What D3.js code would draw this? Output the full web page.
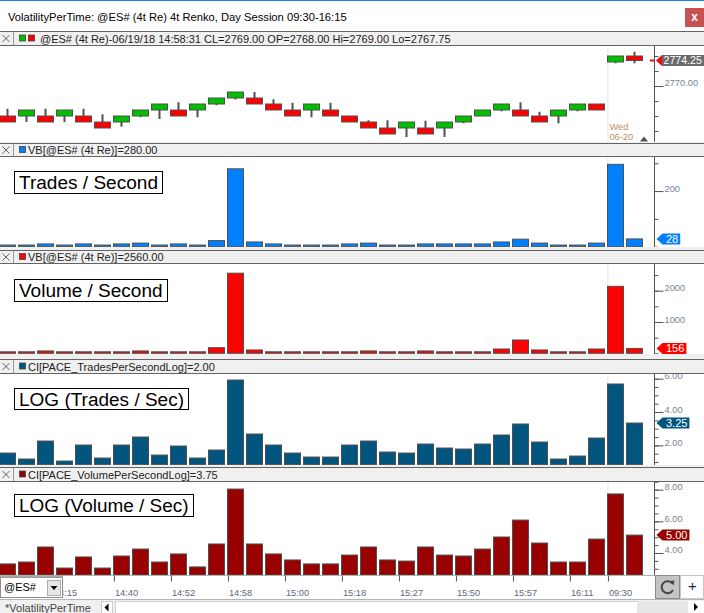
<!DOCTYPE html>
<html><head><meta charset="utf-8">
<script src="https://cdn.jsdelivr.net/npm/d3@7"></script>
<style>
html,body{margin:0;padding:0;background:#fff;overflow:hidden}
svg{display:block;font-family:"Liberation Sans",Arial,sans-serif}
</style></head><body>
<svg id="c" width="704" height="613"></svg>
<script>
// ---------- DATA ----------
const titleText = "VolatilityPerTime: @ES# (4t Re) 4t Renko, Day Session 09:30-16:15";
const headerTexts = [
  "@ES# (4t Re)-06/19/18 14:58:31 CL=2769.00 OP=2768.00 Hi=2769.00 Lo=2767.75",
  "VB[@ES# (4t Re)]=280.00",
  "VB[@ES# (4t Re)]=2560.00",
  "CI[PACE_TradesPerSecondLog]=2.00",
  "CI[PACE_VolumePerSecondLog]=3.75"
];
const panelTitles = ["Trades / Second", "Volume / Second", "LOG (Trades / Sec)", "LOG (Volume / Sec)"];
const bricks = d3.range(1, 35);
const brickOpen  = [2765,2765,2765,2765,2765,2764,2764,2765,2766,2766,2766,2767,2768,2768,2767,2766,2766,2766,2765,2764,2763,2763,2763,2763,2764,2765,2766,2766,2765,2765,2766,2767,2774,2775];
const brickClose = [2764,2766,2764,2766,2764,2763,2765,2766,2767,2765,2767,2768,2769,2767,2766,2765,2767,2765,2764,2763,2762,2764,2762,2764,2765,2766,2767,2765,2764,2766,2767,2766,2775,2774.25];
const brickHigh  = [2766.2,2766,2766.2,2766,2766.2,2765.3,2765,2766,2767,2767.3,2767,2768,2769,2769,2767.8,2767.2,2767,2767.2,2765,2764.3,2764.3,2764,2764.2,2764,2765,2766,2767,2767.3,2765.7,2766,2767,2767,2775,2775.7];
const brickLow   = [2764,2764,2764,2764,2764,2763,2763.2,2764.8,2764.5,2765,2764.8,2766.8,2767.75,2767,2766,2765,2764.8,2765,2764,2763,2762,2761.5,2762,2761.5,2763.8,2765,2765.8,2765,2764,2763.8,2765.8,2766,2773.8,2773.8];
const tradesPerSec = [6,6,10,6,10,6,10,13,6,10,6,22,280,17,10,6,6,6,10,13,6,6,10,10,10,10,17,27,13,6,6,13,296,28];
const volumePerSec = [40,40,75,15,40,15,40,75,40,40,15,180,2560,107,40,40,40,40,40,75,40,40,75,40,40,40,138,426,107,40,40,138,2140,156];
const logTrades = [1.54,1.18,2.26,1.06,2.02,1.24,2.02,2.50,1.42,1.96,1.24,1.72,5.92,2.68,2.02,1.54,1.30,1.30,2.02,2.26,1.60,1.54,2.08,1.84,1.78,2.08,2.62,3.28,2.20,1.18,1.36,2.44,5.68,3.34];
const logVolume = [3.31,3.43,4.38,3.05,3.75,3.05,3.81,4.25,3.43,3.94,3.12,4.57,8.04,4.57,3.94,3.56,3.31,3.31,3.87,4.38,3.56,3.49,4.38,3.87,3.81,4.25,5.01,6.08,4.63,3.43,3.43,4.88,7.73,5.13];
const tickBricks = [4,7,10,13,16,19,22,25,28,31,33];
const tickLabels = ["14:15","14:40","14:52","14:58","15:00","15:18","15:27","15:50","15:57","16:11","09:30"];
const sessionBrick = 33;
const sessionLabel = ["Wed", "06-20"];
const priceMinor = [2762.5,2765,2767.5,2770,2772.5,2775], priceMajor = [2770];
const tradesMinor = [0,100,200,300], tradesMajor = [200];
const volMinor = [0,500,1000,1500,2000,2500], volMajor = [1000,2000];
const logTMinor = [1,1.5,2,2.5,3,3.5,4,4.5,5,5.5,6], logTMajor = [2,4,6];
const logVMinor = [3,3.5,4,4.5,5,5.5,6,6.5,7,7.5,8,8.5], logVMajor = [4,6,8];

// ---------- LAYOUT ----------
const svg = d3.select("#c");
const AX = 654.5;
const C = {green:"#00c000", red:"#ff0000", blue:"#0080ff", teal:"#02557f", dred:"#990000", edge:"#505050"};
const panels = [
  {hTop:31, top:45, bottom:142, sw:[C.green,C.red]},
  {hTop:143, top:156, bottom:247, sw:[C.blue]},
  {hTop:250, top:263, bottom:354, sw:[C.red]},
  {hTop:359, top:373, bottom:465, sw:[C.teal]},
  {hTop:467, top:481, bottom:575, sw:[C.dred]}
];

const x = d3.scaleBand().domain(bricks).range([-1.5, 644.5]).paddingInner(0.1).paddingOuter(0.05);
const yP  = d3.scaleLinear().domain([2760.667, 2776.833]).range([142, 45]);
const yT  = d3.scaleLinear().domain([0, 326]).range([246.7, 156]);
const yV  = d3.scaleLinear().domain([0, 2885]).range([353.3, 263]);
const yLT = d3.scaleLinear().domain([0.84, 6.34]).range([464.7, 373]);
const yLV = d3.scaleLinear().domain([2.61, 8.548]).range([575, 481]);

svg.append("rect").attr("width",704).attr("height",613).attr("fill","#fff");
// title bar
svg.append("rect").attr("x",0).attr("y",0).attr("width",704).attr("height",1).attr("fill","#1883d7");
svg.append("text").attr("x",8).attr("y",20.5).attr("font-size","11.2px").attr("fill","#000").text(titleText);
svg.append("rect").attr("x",685).attr("y",8).attr("width",19).attr("height",19).attr("fill","#c75050");
svg.append("text").attr("x",694.5).attr("y",21).attr("text-anchor","middle").attr("font-size","12px").attr("font-weight","bold").attr("fill","#fff").text("x");

const defs = svg.append("defs");
panels.forEach((p,i)=>{
  const prevBottom = i===0 ? 31 : panels[i-1].bottom;
  svg.append("rect").attr("x",0).attr("y",prevBottom).attr("width",704).attr("height",p.top-prevBottom).attr("fill","#f0f0f0");
  [p.hTop, p.top, p.bottom].forEach(yy => svg.append("line").attr("x1",0).attr("x2",704)
     .attr("y1",yy+0.5).attr("y2",yy+0.5).attr("stroke","#646464"));
  const hy = (p.hTop+p.top)/2 + 0.5;
  svg.append("path").attr("d",`M2.5,${hy-3.5}L9.5,${hy+3.5}M9.5,${hy-3.5}L2.5,${hy+3.5}`).attr("stroke","#555").attr("stroke-width",0.9).attr("fill","none");
  svg.append("line").attr("x1",13.5).attr("x2",13.5).attr("y1",p.hTop+1).attr("y2",p.top).attr("stroke","#9a9a9a");
  p.sw.forEach((c,k)=> svg.append("rect").attr("x",19.5+k*9).attr("y",hy-3.5).attr("width",6).attr("height",6)
     .attr("fill",c).attr("stroke","#444").attr("stroke-width",0.8));
  svg.append("text").attr("x",p.sw.length===2?40:28).attr("y",hy+4).attr("font-size","11px").attr("fill","#222").text(headerTexts[i]);
  defs.append("clipPath").attr("id","pc"+i).append("rect").attr("x",0).attr("y",p.top+1).attr("width",AX).attr("height",p.bottom-p.top-1);
  defs.append("clipPath").attr("id","ac"+i).append("rect").attr("x",AX-1).attr("y",p.top+1).attr("width",704-AX+1).attr("height",p.bottom-p.top-1);
  svg.append("line").attr("x1",x(sessionBrick)+0.5).attr("x2",x(sessionBrick)+0.5).attr("y1",p.top+1).attr("y2",p.bottom)
     .attr("stroke","#e4e4e4");
});

// ---------- Renko panel ----------
const g1 = svg.append("g").attr("clip-path","url(#pc0)");
const cx = b => Math.round(x(b)) + 8.5;
g1.selectAll("line.w").data(bricks).join("line")
  .attr("x1",cx).attr("x2",cx)
  .attr("y1",(b,i)=>yP(brickHigh[i])).attr("y2",(b,i)=>yP(brickLow[i]))
  .attr("stroke",C.edge).attr("stroke-width",2);
g1.selectAll("rect.b").data(bricks).join("rect")
  .attr("x",b=>Math.round(x(b))+0.5).attr("width",16)
  .attr("y",(b,i)=>yP(Math.max(brickOpen[i],brickClose[i])))
  .attr("height",(b,i)=>yP(Math.min(brickOpen[i],brickClose[i]))-yP(Math.max(brickOpen[i],brickClose[i])))
  .attr("fill",(b,i)=>brickClose[i]>=brickOpen[i]?C.green:C.red)
  .attr("stroke",C.edge).attr("stroke-width",1);
svg.append("text").attr("x",x(sessionBrick)+2).attr("y",129.5).attr("font-size","9.3px").attr("fill","#c09060").text(sessionLabel[0]);
svg.append("text").attr("x",x(sessionBrick)+2).attr("y",140).attr("font-size","9.3px").attr("fill","#c09060").text(sessionLabel[1]);
svg.append("path").attr("d","M640,141.5L648,141.5L644,136.5Z").attr("fill","#505050");

// ---------- bar panels ----------
function bars(idx, vals, scale, color){
  const base = scale.range()[0];
  svg.append("g").attr("clip-path",`url(#pc${idx})`)
    .selectAll("rect").data(bricks).join("rect")
    .attr("x",b=>Math.round(x(b))+0.5).attr("width",16)
    .attr("y",(b,i)=>Math.min(scale(vals[i]), base-1.5))
    .attr("height",(b,i)=>base - Math.min(scale(vals[i]), base-1.5))
    .attr("fill",color).attr("stroke",C.edge).attr("stroke-width",1);
}
bars(1, tradesPerSec, yT, C.blue);
bars(2, volumePerSec, yV, C.red);
bars(3, logTrades, yLT, C.teal);
bars(4, logVolume, yLV, C.dred);

// ---------- right axes ----------
function yAxis(idx, scale, minor, major, fmt){
  const p = panels[idx];
  const g = svg.append("g").attr("clip-path",`url(#ac${idx})`);
  g.append("line").attr("x1",AX).attr("x2",AX).attr("y1",p.top).attr("y2",p.bottom).attr("stroke","#555");
  const gm = g.append("g").attr("transform",`translate(${AX},0)`)
    .call(d3.axisRight(scale).tickValues(minor).tickSize(4).tickSizeOuter(0).tickFormat(""));
  const gM = g.append("g").attr("transform",`translate(${AX},0)`)
    .call(d3.axisRight(scale).tickValues(major).tickSize(9).tickSizeOuter(0).tickPadding(1).tickFormat(fmt));
  [gm,gM].forEach(a=>{ a.select(".domain").remove(); a.selectAll("line").attr("stroke","#555"); });
  gM.selectAll("text").attr("dy","0").attr("font-size","9.3px").attr("fill","#7a8494").attr("font-family","Liberation Sans, Arial, sans-serif");
}
yAxis(0, yP, priceMinor, priceMajor, d3.format(".2f"));
yAxis(1, yT, tradesMinor, tradesMajor, d3.format("d"));
yAxis(2, yV, volMinor, volMajor, d3.format("d"));
yAxis(3, yLT, logTMinor, logTMajor, d3.format(".2f"));
yAxis(4, yLV, logVMinor, logVMajor, d3.format(".2f"));

// ---------- last value markers ----------
function marker(yy, label, color, boxColor, toEdge){
  const g = svg.append("g");
  const t = g.append("text").attr("x",toEdge?663.5:666).attr("y",yy+4).attr("font-size",toEdge?"10.6px":"11px").attr("fill","#fff").text(label);
  const w = t.node().getComputedTextLength();
  const x1 = toEdge ? 706 : 666 + w + 2;
  if (boxColor){
    g.insert("path","text").attr("d",`M656,${yy}L662,${yy-5.5}L662,${yy+5.5}Z`).attr("fill",color);
    g.insert("rect","text").attr("x",662).attr("y",yy-5.5).attr("width",x1-662).attr("height",11).attr("fill",boxColor);
  } else {
    g.insert("path","text").attr("d",`M656.5,${yy}L662.5,${yy-5.5}L${x1},${yy-5.5}L${x1},${yy+5.5}L662.5,${yy+5.5}Z`).attr("fill",color);
  }
}
const lastP = brickClose[brickClose.length-1];
svg.append("line").attr("x1",650).attr("x2",654).attr("y1",yP(lastP)).attr("y2",yP(lastP)).attr("stroke",C.red).attr("stroke-width",2);
marker(yP(lastP), d3.format(".2f")(lastP), C.red, "#6b6b6b", true);
const q = v => Math.floor(v*4)/4;
marker(yT(tradesPerSec[33]), d3.format("d")(tradesPerSec[33]), C.blue);
marker(yV(volumePerSec[33]), d3.format("d")(volumePerSec[33]), C.red);
marker(yLT(logTrades[33]), d3.format(".2f")(q(logTrades[33])), C.teal);
marker(yLV(logVolume[33]), d3.format(".2f")(q(logVolume[33])), C.dred);

// ---------- panel title boxes ----------
const boxes = [
  {x:14.5, y:171.5, w:148, h:22, tl:139},
  {x:14.5, y:279.5, w:153, h:22, tl:143.5},
  {x:14.5, y:388.5, w:174, h:21, tl:165},
  {x:14.5, y:494.5, w:179, h:22, tl:169.5}
];
boxes.forEach((b,i)=>{
  svg.append("rect").attr("x",b.x).attr("y",b.y).attr("width",b.w).attr("height",b.h).attr("fill","#fff").attr("stroke","#000");
  svg.append("text").attr("x",b.x+4.5).attr("y",b.y+17.5).attr("font-size","18px").attr("fill","#000")
    .attr("textLength",b.tl).attr("lengthAdjust","spacingAndGlyphs").text(panelTitles[i]);
});

// ---------- bottom x axis ----------
svg.append("rect").attr("x",0).attr("y",575.5).attr("width",704).attr("height",23).attr("fill","#fff");
const xEdge = d3.scaleLinear().domain([1, 35]).range([x(1), x(1)+34*x.step()]);
const gx = svg.append("g").attr("transform","translate(0,575.5)")
  .call(d3.axisBottom(xEdge).tickValues(tickBricks).tickSize(6).tickSizeOuter(0).tickFormat((d,i)=>tickLabels[i]));
gx.select(".domain").remove();
gx.selectAll("line").attr("stroke","#555").attr("transform","translate(0.5,0)");
gx.selectAll("text").attr("text-anchor","start").attr("x",(d,i)=>i===0?-3:1).attr("y",20.5).attr("dy","0")
  .attr("font-size","9.3px").attr("fill","#5d6878").attr("font-family","Liberation Sans, Arial, sans-serif");
// combobox
svg.append("rect").attr("x",0.5).attr("y",577.5).attr("width",62).attr("height",20).attr("fill","#fff").attr("stroke","#8c8c8c");
svg.append("line").attr("x1",0).attr("x2",63).attr("y1",576.5).attr("y2",576.5).attr("stroke","#a8a8a8").attr("stroke-width",2);
svg.append("text").attr("x",4).attr("y",591).attr("font-size","11px").attr("fill","#000").text("@ES#");
svg.append("rect").attr("x",47.5).attr("y",580.5).attr("width",13).attr("height",15).attr("fill","#e6e6e6").attr("stroke","#adadad");
svg.append("path").attr("d","M50.5,586L57.5,586L54,590Z").attr("fill","#000");
// refresh and plus
svg.append("rect").attr("x",655.5).attr("y",575.5).attr("width",24).attr("height",23).attr("fill","#c4c4c4").attr("stroke","#8a8a8a");
svg.append("path").attr("d","M672.5,583.5A6,6 0 1 0 673,590").attr("fill","none").attr("stroke","#444").attr("stroke-width",2);
svg.append("path").attr("d","M669.5,581L674.5,580.5L673.5,585.5Z").attr("fill","#444");
svg.append("rect").attr("x",680.5).attr("y",575.5).attr("width",23).attr("height",23).attr("fill","#fff").attr("stroke","#c8c8c8");
svg.append("text").attr("x",692.5).attr("y",591).attr("text-anchor","middle").attr("font-size","15px").attr("fill","#1a2a50").text("+");
// tab bar
svg.append("rect").attr("x",0).attr("y",599).attr("width",704).attr("height",14).attr("fill","#f0f0f0");
svg.append("line").attr("x1",0).attr("x2",704).attr("y1",599.5).attr("y2",599.5).attr("stroke","#b4b4b4");
svg.append("text").attr("x",5).attr("y",611.5).attr("font-size","11px").attr("fill","#444").text("*VolatilityPerTime");
svg.append("rect").attr("x",101.5).attr("y",601.5).attr("width",11).attr("height",12).attr("fill","#fff").attr("stroke","#ccc");
svg.append("path").attr("d","M104.5,607.5L108.5,603.5L108.5,611.5Z").attr("fill","#000");
svg.append("rect").attr("x",115.5).attr("y",601.5).attr("width",522).attr("height",12).attr("fill","#fff").attr("stroke","#d0d0d0");
svg.append("rect").attr("x",637).attr("y",601).attr("width",51).attr("height",12).attr("fill","#e6e6e6");
svg.append("rect").attr("x",688).attr("y",601).attr("width",16).attr("height",12).attr("fill","#fff");
svg.append("path").attr("d","M694,603L698,607L694,611Z").attr("fill","#000");
</script>
</body></html>
